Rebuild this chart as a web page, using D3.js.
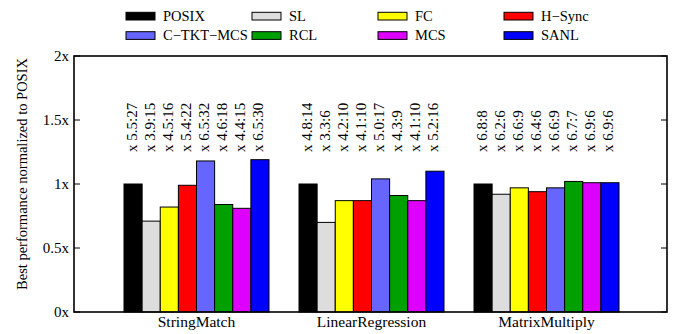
<!DOCTYPE html>
<html>
<head>
<meta charset="utf-8">
<script src="https://cdn.jsdelivr.net/npm/d3@7"></script>
<style>
  html, body { margin: 0; padding: 0; background: #fff; }
  svg { display: block; font-family: "Liberation Serif", "DejaVu Serif", serif; }
</style>
</head>
<body>
<svg id="chart" width="676" height="334"></svg>
<script>
'use strict';

// Best performance normalized to POSIX - clustered bars with per-bar annotations.

const benchmarks = ['StringMatch', 'LinearRegression', 'MatrixMultiply'];
const locks = ['POSIX', 'SL', 'FC', 'H-Sync', 'C-TKT-MCS', 'RCL', 'MCS', 'SANL'];

const stringMatch = [1.00, 0.71, 0.82, 0.99, 1.18, 0.84, 0.81, 1.19];
const linearRegression = [1.00, 0.70, 0.87, 0.87, 1.04, 0.91, 0.87, 1.10];
const matrixMultiply = [1.00, 0.92, 0.97, 0.94, 0.97, 1.02, 1.01, 1.01];

const stringMatchNotes = ['x 5.5:27', 'x 3.9:15', 'x 4.5:16', 'x 5.4:22', 'x 6.5:32', 'x 4.6:18', 'x 4.4:15', 'x 6.5:30'];
const linearRegressionNotes = ['x 4.8:14', 'x 3.3:6', 'x 4.2:10', 'x 4.1:10', 'x 5.0:17', 'x 4.3:9', 'x 4.1:10', 'x 5.2:16'];
const matrixMultiplyNotes = ['x 6.8:8', 'x 6.2:6', 'x 6.6:9', 'x 6.4:6', 'x 6.6:9', 'x 6.7:7', 'x 6.9:6', 'x 6.9:6'];

const yTicks = [0, 0.5, 1, 1.5, 2];
const yTickLabels = ['0x', '0.5x', '1x', '1.5x', '2x'];

const COLORS = {
	'POSIX': '#000000',
	'SL': '#dddddd',
	'FC': '#ffff00',
	'H-Sync': '#ff0000',
	'C-TKT-MCS': '#6666ff',
	'RCL': '#00a000',
	'MCS': '#dd00ff',
	'SANL': '#0000ff'
};

const values = [stringMatch, linearRegression, matrixMultiply];
const notes = [stringMatchNotes, linearRegressionNotes, matrixMultiplyNotes];

const rows = [];
benchmarks.forEach((b, gi) => {
	locks.forEach((l, li) => {
		rows.push({ bench: b, lock: l, value: values[gi][li], note: notes[gi][li] });
	});
});

const FRAME = { left: 74, right: 667, top: 56, bottom: 312 };

const svg = d3.select('#chart');

const y = d3.scaleLinear().domain([0, 2]).range([FRAME.bottom, FRAME.top]);
const x0 = d3.scaleBand().domain(benchmarks).range([109, 634]).paddingInner(0);
const x1 = d3.scaleBand().domain(locks).range([15, x0.bandwidth() - 15]).padding(0);

// ----------------------- bars -----------------------------------------

svg.append('g').selectAll('rect')
	.data(rows)
	.join('rect')
	.attr('x', (d) => x0(d.bench) + x1(d.lock))
	.attr('y', (d) => y(d.value))
	.attr('width', x1.bandwidth())
	.attr('height', (d) => y(0) - y(d.value))
	.attr('fill', (d) => COLORS[d.lock])
	.attr('stroke', '#000')
	.attr('stroke-width', 1);

// rotated annotations above the bars
svg.append('g').selectAll('text')
	.data(rows)
	.join('text')
	.attr('transform', (d) => {
		const cx = x0(d.bench) + x1(d.lock) + x1.bandwidth() / 2 + 3.5;
		return `translate(${cx},${y(1.25)}) rotate(-90)`;
	})
	.attr('font-size', 15)
	.text((d) => d.note);

// ----------------------- axes -----------------------------------------

svg.append('rect')
	.attr('x', FRAME.left).attr('y', FRAME.top)
	.attr('width', FRAME.right - FRAME.left)
	.attr('height', FRAME.bottom - FRAME.top)
	.attr('fill', 'none')
	.attr('stroke', '#000')
	.attr('stroke-width', 1.6);

const tickG = svg.append('g');
tickG.selectAll('line.l')
	.data(yTicks)
	.join('line')
	.attr('class', 'l')
	.attr('x1', FRAME.left).attr('x2', FRAME.left + 6)
	.attr('y1', (d) => y(d)).attr('y2', (d) => y(d))
	.attr('stroke', '#000');
tickG.selectAll('line.r')
	.data(yTicks)
	.join('line')
	.attr('class', 'r')
	.attr('x1', FRAME.right).attr('x2', FRAME.right - 6)
	.attr('y1', (d) => y(d)).attr('y2', (d) => y(d))
	.attr('stroke', '#000');
tickG.selectAll('text')
	.data(yTicks)
	.join('text')
	.attr('x', FRAME.left - 5)
	.attr('y', (d) => y(d))
	.attr('dy', '0.35em')
	.attr('text-anchor', 'end')
	.attr('font-size', 15)
	.text((d, i) => yTickLabels[i]);

svg.append('g').selectAll('text')
	.data(benchmarks)
	.join('text')
	.attr('x', (d) => x0(d) + x0.bandwidth() / 2)
	.attr('y', 327)
	.attr('text-anchor', 'middle')
	.attr('font-size', 15.5)
	.text((d) => d);

svg.append('text')
	.attr('transform', 'translate(27,174) rotate(-90)')
	.attr('text-anchor', 'middle')
	.attr('font-size', 14.5)
	.text('Best performance normalized to POSIX');

// ----------------------- legend ---------------------------------------

const item = svg.append('g').selectAll('g')
	.data(locks)
	.join('g')
	.attr('transform', (d, i) => `translate(${126 + (i % 4) * 126},${Math.floor(i / 4) * 19.4})`);
item.append('rect')
	.attr('x', 0).attr('y', 12.3)
	.attr('width', 29).attr('height', 7.7)
	.attr('fill', (d) => COLORS[d])
	.attr('stroke', '#000')
	.attr('stroke-width', 1);
item.append('text')
	.attr('x', 37).attr('y', 15.8)
	.attr('dy', '0.35em')
	.attr('font-size', 14.5)
	.text((d) => d.replace(/-/g, '\u2212'));
</script>
</body>
</html>
